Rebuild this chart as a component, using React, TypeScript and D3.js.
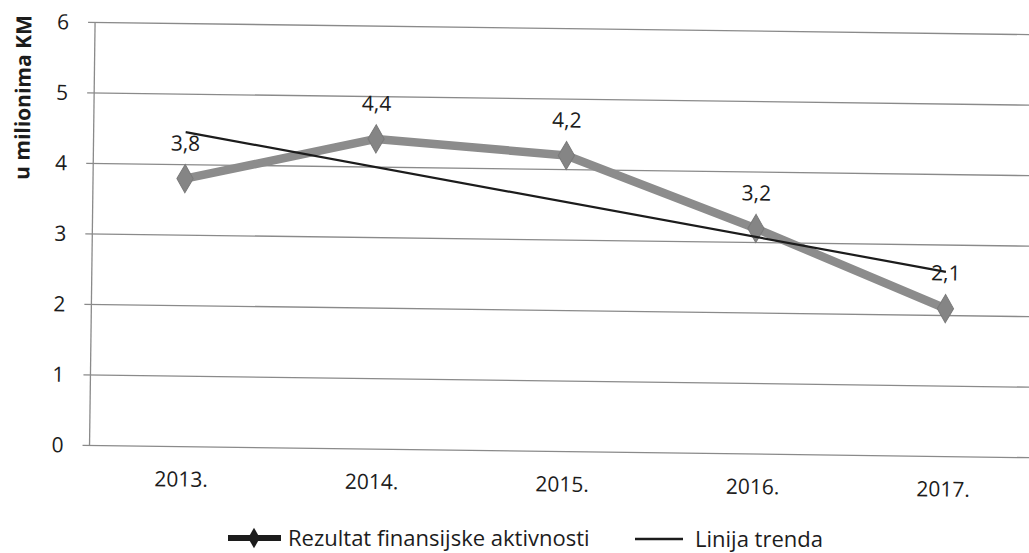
import * as d3 from 'd3';
import React, { useRef, useEffect } from 'react';

const years = ['2013.', '2014.', '2015.', '2016.', '2017.'];
const values = [3.8, 4.4, 4.2, 3.2, 2.1];
const yTicks = [0, 1, 2, 3, 4, 5, 6];
const seriesName = 'Rezultat finansijske aktivnosti';
const trendName = 'Linija trenda';

const W = 1029;
const H = 553;
const font = "'Open Sans', 'Noto Sans', sans-serif";
const ink = '#1c1c1c';

function Chart() {
  const ref = useRef<SVGSVGElement>(null);

  useEffect(() => {
    const svg = d3.select(ref.current);
    svg.selectAll('*').remove();

    svg.append('rect').attr('width', W).attr('height', H).attr('fill', '#fff');

    // the scan is turned a little clockwise
    const g = svg.append('g').attr('transform', 'rotate(0.75, 520, 260)');

    const left = 92;
    const x = d3.scalePoint<string>().domain(years).range([184, 946]);
    const y = d3.scaleLinear().domain([0, 6]).range([451, 28]);

    // gridlines
    g.append('g')
      .selectAll('line')
      .data(yTicks)
      .enter()
      .append('line')
      .attr('x1', left - 7)
      .attr('x2', 1070)
      .attr('y1', d => y(d))
      .attr('y2', d => y(d))
      .attr('stroke', '#8a8a8a')
      .attr('stroke-width', 1.3);

    g.append('line')
      .attr('x1', left).attr('x2', left)
      .attr('y1', y(6)).attr('y2', y(0))
      .attr('stroke', '#8a8a8a')
      .attr('stroke-width', 1.3);

    g.append('g')
      .selectAll('text')
      .data(yTicks)
      .enter()
      .append('text')
      .attr('x', 66)
      .attr('y', d => y(d))
      .attr('dy', '0.35em')
      .attr('text-anchor', 'end')
      .attr('font-family', font)
      .attr('font-size', 21)
      .attr('fill', ink)
      .text(d => d);

    g.append('text')
      .attr('transform', 'translate(21,104) rotate(-90)')
      .attr('text-anchor', 'middle')
      .attr('dy', '0.35em')
      .attr('font-family', font)
      .attr('font-weight', 'bold')
      .attr('font-size', 21)
      .attr('fill', ink)
      .text('u milionima KM');

    // x labels
    g.append('g')
      .selectAll('text')
      .data(years)
      .enter()
      .append('text')
      .attr('x', d => x(d)!)
      .attr('y', 491)
      .attr('text-anchor', 'middle')
      .attr('font-family', font)
      .attr('font-size', 21)
      .attr('fill', ink)
      .text(d => d);

    // series
    const pts = years.map((yr, i) => ({ yr, v: values[i] }));
    const line = d3.line<{ yr: string; v: number }>()
      .x(d => x(d.yr)!)
      .y(d => y(d.v));

    g.append('path')
      .datum(pts)
      .attr('d', line)
      .attr('fill', 'none')
      .attr('stroke', '#8c8c8c')
      .attr('stroke-width', 8.5)
      .attr('stroke-linejoin', 'round');

    const diamond = d3.symbol().type(d3.symbolDiamond).size(230);
    g.append('g')
      .selectAll('path')
      .data(pts)
      .enter()
      .append('path')
      .attr('d', diamond)
      .attr('transform', d => `translate(${x(d.yr)},${y(d.v)})`)
      .attr('fill', '#858585')
      .attr('stroke', '#7a7a7a')
      .attr('stroke-width', 1);

    // trend line (least squares fit of the series)
    const xs = values.map((_, i) => i + 1);
    const mx = d3.mean(xs)!;
    const my = d3.mean(values)!;
    const slope = d3.sum(xs, (xi, i) => (xi - mx) * (values[i] - my)) / d3.sum(xs, xi => (xi - mx) ** 2);
    const trend = years.map((yr, i) => ({ yr, v: my + slope * (i + 1 - mx) }));
    g.append('path')
      .datum([trend[0], trend[trend.length - 1]])
      .attr('d', line)
      .attr('fill', 'none')
      .attr('stroke', ink)
      .attr('stroke-width', 2.2);

    // value labels
    g.append('g')
      .selectAll('text')
      .data(pts)
      .enter()
      .append('text')
      .attr('x', d => x(d.yr)!)
      .attr('y', d => y(d.v) - 28)
      .attr('text-anchor', 'middle')
      .attr('font-family', font)
      .attr('font-size', 21)
      .attr('fill', ink)
      .text(d => String(d.v).replace('.', ','));

    // legend (kept level, below the plot)
    const lg = svg.append('g');
    const ly = 538;
    lg.append('line')
      .attr('x1', 228).attr('x2', 281).attr('y1', ly).attr('y2', ly)
      .attr('stroke', ink).attr('stroke-width', 6);
    lg.append('path')
      .attr('d', d3.symbol().type(d3.symbolDiamond).size(120))
      .attr('transform', `translate(254,${ly})`)
      .attr('fill', ink);
    lg.append('text')
      .attr('x', 288).attr('y', ly).attr('dy', '0.35em')
      .attr('font-family', font).attr('font-size', 22).attr('fill', ink)
      .text(seriesName);
    lg.append('line')
      .attr('x1', 635).attr('x2', 683).attr('y1', ly + 1).attr('y2', ly + 1)
      .attr('stroke', ink).attr('stroke-width', 2.5);
    lg.append('text')
      .attr('x', 695).attr('y', ly + 1).attr('dy', '0.35em')
      .attr('font-family', font).attr('font-size', 22).attr('fill', ink)
      .text(trendName);
  }, []);

  return <svg ref={ref} width={W} height={H} style={{ position: 'absolute', left: 0, top: 0, display: 'block' }} />;
}

export default function App() {
  return <Chart />;
}
